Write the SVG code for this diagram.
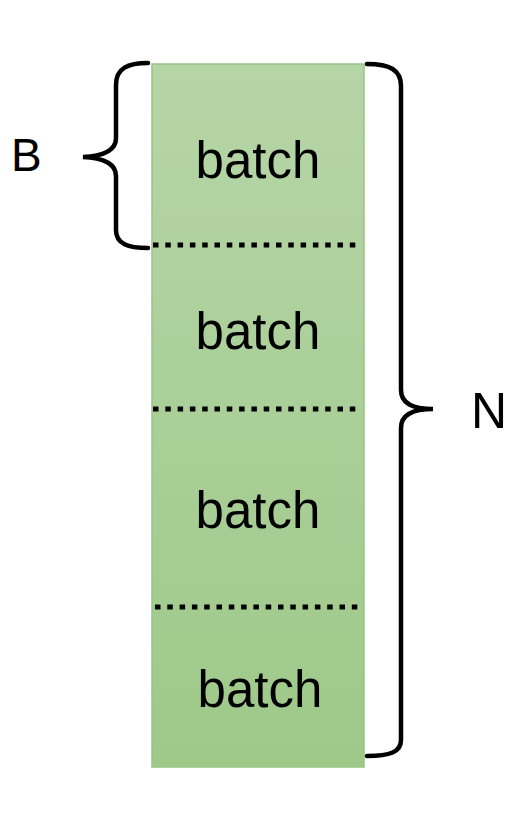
<svg xmlns="http://www.w3.org/2000/svg" width="525" height="816" viewBox="0 0 525 816">
<defs>
<linearGradient id="g" x1="0" y1="0" x2="0" y2="1">
<stop offset="0" stop-color="#b6d5a7"/>
<stop offset="1" stop-color="#9ec989"/>
</linearGradient>
</defs>
<style>
.lbl{font-family:"Liberation Sans",Arial,sans-serif;fill:#000}
.dot{stroke:#000;stroke-width:5;stroke-dasharray:5.5 6.8;fill:none}
.brace{stroke:#000;stroke-width:4.5;fill:none;stroke-linecap:round}
</style>
<rect width="525" height="816" fill="#fff"/>
<g id="stack">
<rect x="152" y="64" width="212" height="703" fill="url(#g)" stroke="#97c585" stroke-width="1.5"/>
</g>
<g id="batch1"><text class="lbl" x="258" y="178" font-size="51" text-anchor="middle">batch</text></g>
<g id="batch2"><text class="lbl" x="258" y="349" font-size="51" text-anchor="middle">batch</text></g>
<g id="batch3"><text class="lbl" x="258" y="528" font-size="51" text-anchor="middle">batch</text></g>
<g id="batch4"><text class="lbl" x="260" y="707" font-size="51" text-anchor="middle">batch</text></g>
<g id="connectors">
<line class="dot" x1="153" y1="245" x2="359" y2="245"/>
<line class="dot" x1="153" y1="409" x2="359" y2="409"/>
<line class="dot" x1="155" y1="607" x2="362" y2="607"/>
<path class="brace" d="M148,63 C128,63 116,68 116,85 L116,138 C116,150 105,156 83,157 C105,158 116,164 116,176 L116,230 C116,244 128,248 148,248"/>
<path class="brace" d="M367,64 C390,64 401,70 401,86 L401,390 C401,402 410,409 433,409 C410,409 401,416 401,428 L401,740 C401,752 390,756 367,756"/>
</g>
<g id="labelB"><text class="lbl" x="11" y="171" font-size="46">B</text></g>
<g id="labelN"><text class="lbl" x="471" y="428" font-size="50">N</text></g>
</svg>
